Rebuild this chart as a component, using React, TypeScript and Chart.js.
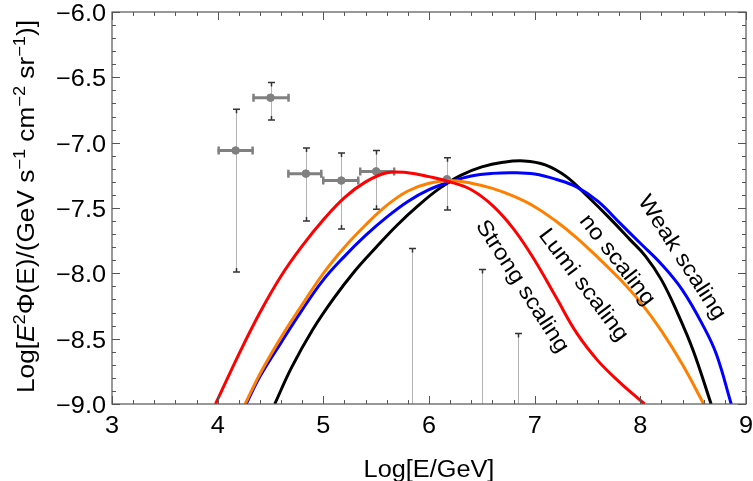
import React, { useEffect, useRef } from 'react';
import { Chart, registerables } from 'chart.js';

Chart.register(...registerables);

// ---- Data ----
const strongX = [3.98, 4.2, 4.4, 4.6, 4.8, 5.0, 5.2, 5.4, 5.6, 5.8, 6.0, 6.2, 6.4, 6.6, 6.8, 7.0, 7.2, 7.4, 7.6, 7.8, 8.04];
const strongY = [-9.0, -8.62, -8.3, -8.02, -7.79, -7.59, -7.42, -7.3, -7.23, -7.23, -7.26, -7.3, -7.36, -7.48, -7.66, -7.9, -8.18, -8.46, -8.67, -8.83, -9.0];

const lumiX = [4.26, 4.4, 4.6, 4.8, 5.0, 5.2, 5.4, 5.6, 5.8, 6.0, 6.2, 6.4, 6.6, 6.8, 7.0, 7.2, 7.4, 7.6, 7.8, 8.0, 8.2, 8.4, 8.6];
const lumiY = [-9.0, -8.77, -8.49, -8.24, -8.0, -7.8, -7.63, -7.48, -7.37, -7.31, -7.29, -7.31, -7.35, -7.41, -7.49, -7.6, -7.73, -7.88, -8.04, -8.22, -8.44, -8.7, -9.0];

const weakX = [4.27, 4.4, 4.6, 4.8, 5.0, 5.2, 5.4, 5.6, 5.8, 6.0, 6.2, 6.4, 6.6, 6.8, 7.0, 7.2, 7.4, 7.6, 7.8, 8.0, 8.2, 8.4, 8.6, 8.72, 8.86];
const weakY = [-9.0, -8.79, -8.53, -8.28, -8.05, -7.87, -7.71, -7.57, -7.45, -7.36, -7.3, -7.255, -7.235, -7.23, -7.24, -7.28, -7.34, -7.45, -7.61, -7.77, -7.93, -8.13, -8.41, -8.62, -9.0];

const noX = [4.54, 4.7, 4.9, 5.1, 5.3, 5.5, 5.7, 5.9, 6.1, 6.3, 6.5, 6.7, 6.9, 7.1, 7.3, 7.5, 7.7, 7.9, 8.05, 8.2, 8.35, 8.5, 8.67];
const noY = [-9.0, -8.72, -8.43, -8.19, -7.98, -7.8, -7.63, -7.48, -7.35, -7.25, -7.185, -7.15, -7.14, -7.17, -7.26, -7.41, -7.57, -7.74, -7.87, -8.05, -8.3, -8.59, -9.0];

// measured points with error bars
const ptX = [4.17, 4.5, 4.835, 5.17, 5.5, 6.17];
const ptY = [-7.06, -6.656, -7.237, -7.29, -7.22, -7.28];
const ptXLo = [4.0, 4.33, 4.66, 4.99, 5.34, 6.17];
const ptXHi = [4.34, 4.68, 4.99, 5.34, 5.68, 6.17];
const ptYLo = [-7.99, -6.826, -7.6, -7.66, -7.51, -7.515];
const ptYHi = [-6.745, -6.54, -7.04, -7.08, -7.06, -7.115];

// upper limits
const ulX = [5.84, 6.5, 6.84];
const ulY = [-7.81, -7.97, -8.46];

const xTicks = [3, 4, 5, 6, 7, 8, 9];
const yTicks = [-9.0, -8.5, -8.0, -7.5, -7.0, -6.5, -6.0];
const xTickLabels = ['3', '4', '5', '6', '7', '8', '9'];
const yTickLabels = ['\u22129.0', '\u22128.5', '\u22128.0', '\u22127.5', '\u22127.0', '\u22126.5', '\u22126.0'];

const curveLabels = ['Strong scaling', 'Lumi scaling', 'no scaling', 'Weak scaling'];
const labelX = [6.88, 7.46, 7.78, 8.39];
const labelY = [-8.1, -8.09, -7.9, -7.88];
const labelAngle = [57, 53, 52, 57];

const FONT = '"Liberation Sans", Arial, Helvetica, sans-serif';
const SX = 1.1;

function pts(xs: number[], ys: number[]) {
  return xs.map((x, i) => ({ x, y: ys[i] }));
}

function drawText(ctx: any, text: string, x: number, y: number, size: number, align: string, rot = 0) {
  ctx.save();
  ctx.translate(x, y);
  if (rot) ctx.rotate(rot);
  ctx.scale(SX, 1);
  ctx.font = `${size}px ${FONT}`;
  ctx.textAlign = align;
  ctx.fillText(text, 0, 0);
  ctx.restore();
}

const errorPlugin = {
  id: 'errorbars',
  beforeDatasetsDraw(chart: any) {
    const { ctx, chartArea: a, scales } = chart;
    const xs = scales.x;
    const ys = scales.y;
    ctx.save();
    ulX.forEach((v, i) => {
      const px = Math.round(xs.getPixelForValue(v)) + 0.5;
      const py = ys.getPixelForValue(ulY[i]);
      ctx.strokeStyle = '#b4b4b4';
      ctx.lineWidth = 1;
      ctx.beginPath();
      ctx.moveTo(px, py);
      ctx.lineTo(px, a.bottom);
      ctx.stroke();
      ctx.strokeStyle = '#333';
      ctx.lineWidth = 1.5;
      ctx.beginPath();
      ctx.moveTo(px - 3.5, py);
      ctx.lineTo(px + 3.5, py);
      ctx.moveTo(px, py);
      ctx.lineTo(px, py + 4);
      ctx.stroke();
    });
    ptX.forEach((v, i) => {
      const px = Math.round(xs.getPixelForValue(v)) + 0.5;
      const pLo = ys.getPixelForValue(ptYLo[i]);
      const pHi = ys.getPixelForValue(ptYHi[i]);
      ctx.strokeStyle = '#b4b4b4';
      ctx.lineWidth = 1;
      ctx.beginPath();
      ctx.moveTo(px, pHi);
      ctx.lineTo(px, pLo);
      ctx.stroke();
      ctx.strokeStyle = '#333';
      ctx.lineWidth = 1.5;
      ctx.beginPath();
      ctx.moveTo(px - 3.5, pHi);
      ctx.lineTo(px + 3.5, pHi);
      ctx.moveTo(px, pHi);
      ctx.lineTo(px, pHi + 4);
      ctx.moveTo(px - 3.5, pLo);
      ctx.lineTo(px + 3.5, pLo);
      ctx.moveTo(px, pLo);
      ctx.lineTo(px, pLo - 4);
      ctx.stroke();
    });
    ptX.forEach((v, i) => {
      const x0 = xs.getPixelForValue(ptXLo[i]);
      const x1 = xs.getPixelForValue(ptXHi[i]);
      if (x1 - x0 < 1) return;
      const py = ys.getPixelForValue(ptY[i]);
      ctx.strokeStyle = '#808080';
      ctx.lineWidth = 3;
      ctx.beginPath();
      ctx.moveTo(x0, py);
      ctx.lineTo(x1, py);
      ctx.stroke();
      ctx.lineWidth = 2.5;
      ctx.beginPath();
      ctx.moveTo(x0 + 1, py - 4);
      ctx.lineTo(x0 + 1, py + 4);
      ctx.moveTo(x1 - 1, py - 4);
      ctx.lineTo(x1 - 1, py + 4);
      ctx.stroke();
    });
    ctx.restore();
  },
};

const framePlugin = {
  id: 'frame',
  afterDatasetsDraw(chart: any) {
    const { ctx, chartArea: a, scales } = chart;
    const xs = scales.x;
    const ys = scales.y;
    ctx.save();
    ctx.fillStyle = '#000';
    ctx.textBaseline = 'middle';
    curveLabels.forEach((t, i) => {
      const px = xs.getPixelForValue(labelX[i]);
      const py = ys.getPixelForValue(labelY[i]);
      drawText(ctx, t, px, py, 22, 'center', (labelAngle[i] * Math.PI) / 180);
    });

    // frame
    ctx.strokeStyle = '#555';
    ctx.lineWidth = 1.2;
    ctx.strokeRect(a.left, a.top, a.right - a.left, a.bottom - a.top);
    ctx.lineWidth = 1;
    ctx.beginPath();
    const xMin = xTicks[0];
    for (let i = 0; i <= (xTicks[xTicks.length - 1] - xMin) * 5; i++) {
      const v = xMin + i * 0.2;
      const len = i % 5 === 0 ? 8 : 4;
      const px = Math.round(xs.getPixelForValue(v)) + 0.5;
      ctx.moveTo(px, a.bottom);
      ctx.lineTo(px, a.bottom - len);
      ctx.moveTo(px, a.top);
      ctx.lineTo(px, a.top + len);
    }
    const yMin = yTicks[0];
    for (let i = 0; i <= Math.round((yTicks[yTicks.length - 1] - yMin) * 10); i++) {
      const v = yMin + i * 0.1;
      const len = i % 5 === 0 ? 8 : 4;
      const py = Math.round(ys.getPixelForValue(v)) + 0.5;
      ctx.moveTo(a.left, py);
      ctx.lineTo(a.left + len, py);
      ctx.moveTo(a.right, py);
      ctx.lineTo(a.right - len, py);
    }
    ctx.stroke();

    // tick labels
    ctx.fillStyle = '#000';
    ctx.textBaseline = 'alphabetic';
    xTicks.forEach((v, i) => {
      drawText(ctx, xTickLabels[i], xs.getPixelForValue(v), a.bottom + 29, 23, 'center');
    });
    yTicks.forEach((v, i) => {
      drawText(ctx, yTickLabels[i], a.left - 6, ys.getPixelForValue(v) + 9, 23, 'right');
    });

    // x title
    drawText(ctx, 'Log[E/GeV]', (a.left + a.right) / 2, 477, 23, 'center');

    // y title with superscripts
    const base = 23;
    const segs: { t: string; sup?: boolean; it?: boolean }[] = [
      { t: 'Log[' },
      { t: 'E', it: true },
      { t: '2', sup: true },
      { t: 'Φ(E)/(GeV s' },
      { t: '−1', sup: true },
      { t: ' cm' },
      { t: '−2', sup: true },
      { t: ' sr' },
      { t: '−1', sup: true },
      { t: ')]' },
    ];
    const fontOf = (s: any) =>
      `${s.it ? 'italic ' : ''}${s.sup ? Math.round(base * 0.7) : base}px ${FONT}`;
    let total = 0;
    segs.forEach((s) => {
      ctx.font = fontOf(s);
      total += ctx.measureText(s.t).width;
    });
    const targetLen = 373;
    ctx.save();
    ctx.translate(34, (a.top + a.bottom) / 2 - 1.5);
    ctx.rotate(-Math.PI / 2);
    ctx.scale(targetLen / total, 1);
    ctx.textAlign = 'left';
    let cx = -total / 2;
    segs.forEach((s) => {
      ctx.font = fontOf(s);
      ctx.fillText(s.t, cx, s.sup ? -base * 0.38 : 0);
      cx += ctx.measureText(s.t).width;
    });
    ctx.restore();
    ctx.restore();
  },
};

export default function App() {
  const ref = useRef<HTMLCanvasElement>(null);
  useEffect(() => {
    if (!ref.current) return;
    const line = (label: string, xs: number[], ys: number[], color: string, order: number) => ({
      type: 'line' as const,
      label,
      data: pts(xs, ys),
      borderColor: color,
      backgroundColor: color,
      borderWidth: 3,
      pointRadius: 0,
      tension: 0.4,
      fill: false,
      order,
    });
    const chart = new Chart(ref.current, {
      type: 'line',
      data: {
        datasets: [
          {
            type: 'scatter' as const,
            label: 'data',
            data: pts(ptX, ptY),
            backgroundColor: '#808080',
            borderColor: '#808080',
            pointRadius: 3.8,
            order: 10,
          } as any,
          line('no scaling', noX, noY, '#000000', 4),
          line('Weak scaling', weakX, weakY, '#0000ff', 3),
          line('Lumi scaling', lumiX, lumiY, '#ff8000', 2),
          line('Strong scaling', strongX, strongY, '#ff0000', 1),
        ],
      },
      options: {
        animation: false,
        responsive: false,
        events: [],
        layout: { padding: { top: 12, right: 7, left: 0, bottom: 0 } },
        plugins: { legend: { display: false }, tooltip: { enabled: false } },
        scales: {
          x: {
            type: 'linear',
            min: 3,
            max: 9,
            grid: { display: false, drawTicks: false },
            border: { display: false },
            afterBuildTicks: (s: any) => {
              s.ticks = xTicks.map((v) => ({ value: v }));
            },
            afterFit: (s: any) => {
              s.height = 77;
            },
            ticks: { display: false },
          },
          y: {
            type: 'linear',
            min: -9,
            max: -6,
            grid: { display: false, drawTicks: false },
            border: { display: false },
            afterBuildTicks: (s: any) => {
              s.ticks = yTicks.map((v) => ({ value: v }));
            },
            afterFit: (s: any) => {
              s.width = 112;
            },
            ticks: { display: false },
          },
        },
      },
      plugins: [errorPlugin, framePlugin],
    });
    return () => chart.destroy();
  }, []);
  return (
    <div style={{ position: 'fixed', left: 0, top: 0, width: 753, height: 481, background: '#fff' }}>
      <canvas ref={ref} width={753} height={481} style={{ display: 'block' }} />
    </div>
  );
}
